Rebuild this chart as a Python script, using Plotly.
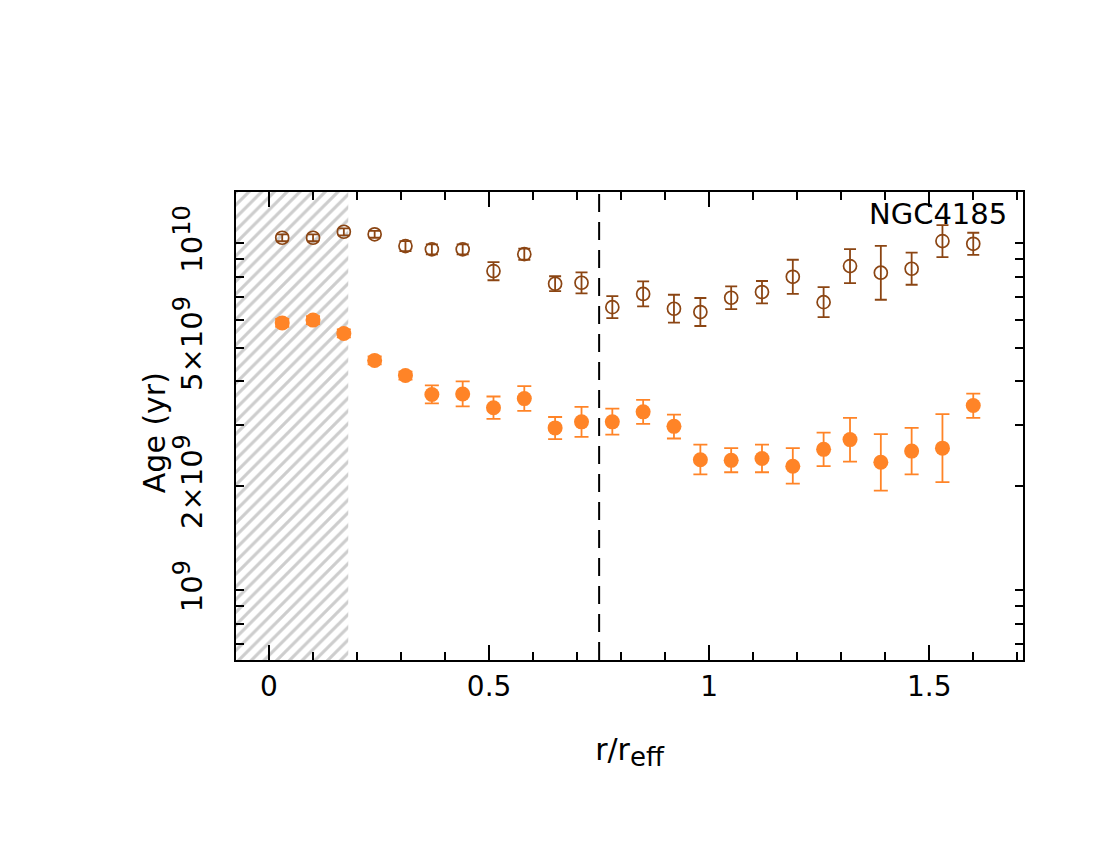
import numpy as np
import plotly.graph_objects as go

# radial bins (r / r_eff)
r = [0.03, 0.10, 0.17, 0.24, 0.31, 0.37, 0.44, 0.51, 0.58, 0.65, 0.71, 0.78,
     0.85, 0.92, 0.98, 1.05, 1.12, 1.19, 1.26, 1.32, 1.39, 1.46, 1.53, 1.60]

# open brown circles, ages in Gyr
age_open = [10.38, 10.38, 10.80, 10.62, 9.82, 9.61, 9.61, 8.32, 9.31, 7.65, 7.70, 6.55,
            7.15, 6.48, 6.34, 6.97, 7.24, 8.01, 6.77, 8.60, 8.23, 8.45, 10.15, 9.97]
open_up = [0.24, 0.24, 0.25, 0.25, 0.33, 0.32, 0.32, 0.51, 0.35, 0.39, 0.55, 0.50,
           0.62, 0.63, 0.62, 0.55, 0.55, 0.96, 0.71, 1.03, 1.61, 0.95, 1.14, 0.76]
open_dn = [0.24, 0.24, 0.25, 0.24, 0.32, 0.31, 0.31, 0.49, 0.34, 0.37, 0.52, 0.46,
           0.57, 0.57, 0.56, 0.51, 0.52, 0.86, 0.64, 0.92, 1.35, 0.85, 1.02, 0.70]

# filled orange circles, ages in Gyr
age_fill = [5.90, 6.01, 5.50, 4.60, 4.16, 3.67, 3.68, 3.36, 3.57, 2.94, 3.06, 3.06,
            3.27, 2.97, 2.38, 2.37, 2.40, 2.28, 2.55, 2.72, 2.34, 2.52, 2.57, 3.41]
fill_up = [0.16, 0.16, 0.15, 0.12, 0.11, 0.23, 0.32, 0.26, 0.31, 0.22, 0.32, 0.28,
           0.27, 0.24, 0.25, 0.20, 0.23, 0.29, 0.30, 0.42, 0.48, 0.42, 0.65, 0.28]
fill_dn = [0.15, 0.16, 0.14, 0.12, 0.11, 0.21, 0.29, 0.24, 0.28, 0.21, 0.29, 0.25,
           0.25, 0.23, 0.22, 0.18, 0.21, 0.25, 0.27, 0.37, 0.40, 0.36, 0.52, 0.27]

R_MASK = 0.18      # inner region excluded (hatched)
R_CUT = 0.75       # dashed reference radius
X_RANGE = [-0.075, 1.713]
Y_RANGE = [8.7995, 10.148]   # log10(yr)

SUP = "<sup><span style='font-size:24px'>{}</span></sup>"
y_major = [1e9, 2e9, 5e9, 1e10]
y_major_text = ["10" + SUP.format(9), "2×10" + SUP.format(9),
                "5×10" + SUP.format(9), "10" + SUP.format(10)]
y_minor = [7e8, 8e8, 9e8, 3e9, 4e9, 6e9, 7e9, 8e9, 9e9]
y_decades = [1e9, 1e10]

BROWN = "#8B4513"
ORANGE = "#FF8427"
FONT = "DejaVu Sans"

gyr = 1e9
fig = go.Figure()

# hatched inner region
fig.add_trace(go.Scatter(
    x=[-0.3, R_MASK, R_MASK, -0.3, -0.3],
    y=[1e8, 1e8, 1e11, 1e11, 1e8],
    mode="lines", fill="toself",
    line=dict(width=0),
    fillcolor="white",
    fillpattern=dict(shape="/", size=9, solidity=0.35, fgcolor="#9c9c9c", bgcolor="white"),
    hoverinfo="skip", showlegend=False,
))

fig.add_trace(go.Scatter(
    x=r, y=np.array(age_open) * gyr, mode="markers",
    marker=dict(symbol="circle-open", size=13, color=BROWN, line=dict(width=1.7, color=BROWN)),
    error_y=dict(type="data", symmetric=False,
                 array=np.array(open_up) * gyr, arrayminus=np.array(open_dn) * gyr,
                 color=BROWN, thickness=1.8, width=6),
    showlegend=False,
))

fig.add_trace(go.Scatter(
    x=r, y=np.array(age_fill) * gyr, mode="markers",
    marker=dict(symbol="circle", size=15, color=ORANGE),
    error_y=dict(type="data", symmetric=False,
                 array=np.array(fill_up) * gyr, arrayminus=np.array(fill_dn) * gyr,
                 color=ORANGE, thickness=1.8, width=7),
    showlegend=False,
))

fig.add_shape(type="line", xref="x", yref="paper", x0=R_CUT, x1=R_CUT, y0=0, y1=1,
              line=dict(color="black", width=2, dash="18px,10px"))

fig.add_annotation(text="NGC4185", xref="paper", yref="paper", x=0.982, y=0.953,
                   xanchor="right", yanchor="middle", showarrow=False,
                   font=dict(size=29, color="black", family=FONT))

# y-axis title placed by hand, as in the original
fig.add_annotation(text="Age (yr)", xref="paper", yref="paper", x=-0.104, y=0.485,
                   xanchor="center", yanchor="middle", textangle=-90, showarrow=False,
                   font=dict(size=30, color="black", family=FONT))

tick_font = dict(family=FONT, size=29, color="black")
title_font = dict(family=FONT, size=30, color="black")

fig.update_layout(
    width=1100, height=850,
    margin=dict(l=228, r=85, t=184, b=198),
    plot_bgcolor="white", paper_bgcolor="white",
    font=dict(family=FONT, size=28, color="black"),
    xaxis=dict(
        range=X_RANGE, showgrid=False, zeroline=False,
        showline=True, linecolor="black", linewidth=2, mirror="ticks",
        ticks="inside", ticklen=15, tickwidth=1.5, tickcolor="black",
        tickvals=[0, 0.5, 1, 1.5], ticktext=["0", "0.5", "1", "1.5"],
        tickfont=dict(family=FONT, size=28, color="black"), ticklabelstandoff=0,
        minor=dict(ticks="inside", ticklen=8, tickwidth=1.5, tickcolor="black", dtick=0.1, tick0=0),
        title=dict(text="r/r<sub><span style='font-size:26px'>eff</span></sub>",
                   standoff=37, font=title_font),
    ),
    yaxis=dict(
        type="log", range=Y_RANGE, showgrid=False, zeroline=False,
        showline=True, linecolor="black", linewidth=2, mirror="ticks",
        ticks="inside", ticklen=8, tickwidth=1.5, tickcolor="black",
        tickvals=y_major, ticktext=y_major_text, tickangle=-90,
        tickfont=tick_font, ticklabelstandoff=20,
        minor=dict(ticks="inside", ticklen=8, tickwidth=1.5, tickcolor="black", tickvals=y_minor),
    ),
    yaxis2=dict(
        type="log", range=Y_RANGE, overlaying="y", anchor="x", side="left",
        showgrid=False, zeroline=False, showline=False, mirror="ticks",
        ticks="inside", ticklen=15, tickwidth=1.5, tickcolor="black",
        tickvals=y_decades, showticklabels=False,
    ),
)

fig.write_html("out.html")
